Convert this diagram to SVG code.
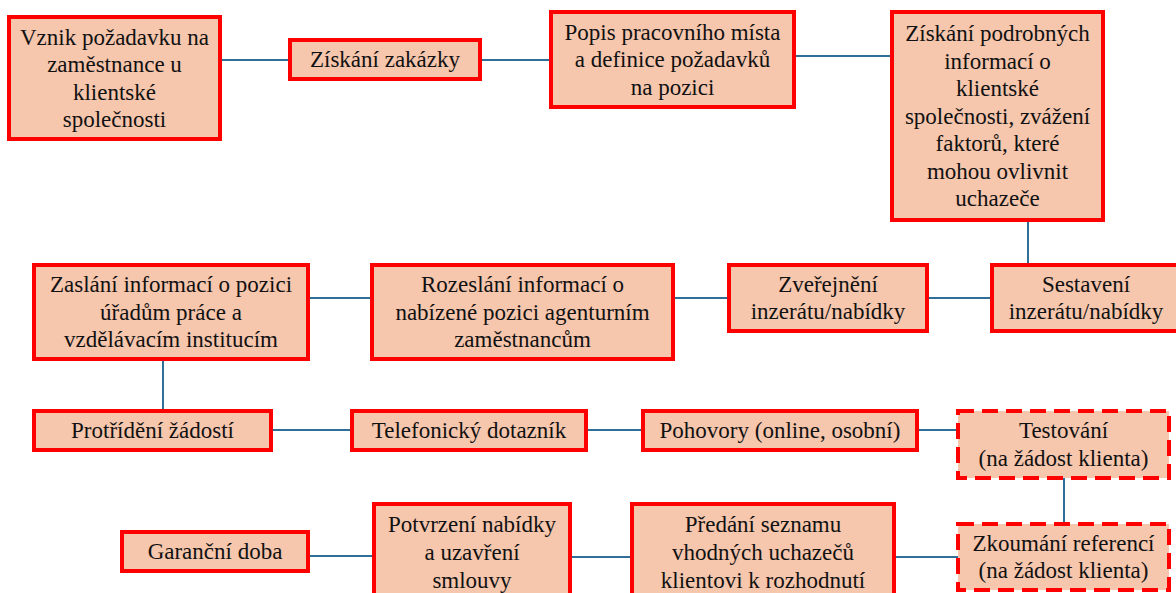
<svg xmlns="http://www.w3.org/2000/svg" width="1176" height="593" viewBox="0 0 1176 593">
<style>
.box{fill:#F6C6AD;stroke:#FF0000;stroke-width:4}
.dash{fill:#F6C6AD;stroke:#FF0000;stroke-width:4;stroke-dasharray:16 8}
.t{font-family:'Liberation Serif',Tinos,'Times New Roman',Times,'Noto Serif','DejaVu Serif',serif;font-size:23px;fill:#111;text-anchor:middle}
.c{stroke:#2F6F98;stroke-width:2;fill:none}
</style>
<rect width="1176" height="593" fill="#fff"/>
<g id="connectors">
<line class="c" x1="220" y1="60" x2="290" y2="60"/>
<line class="c" x1="480" y1="60" x2="551" y2="60"/>
<line class="c" x1="794" y1="56" x2="892" y2="56"/>
<line class="c" x1="1028" y1="220" x2="1028" y2="265"/>
<line class="c" x1="927" y1="298" x2="992" y2="298"/>
<line class="c" x1="673" y1="298" x2="729" y2="298"/>
<line class="c" x1="308" y1="298" x2="372" y2="298"/>
<line class="c" x1="163" y1="361" x2="163" y2="411"/>
<line class="c" x1="271" y1="430" x2="352" y2="430"/>
<line class="c" x1="586" y1="430" x2="643" y2="430"/>
<line class="c" x1="917" y1="430" x2="958" y2="430"/>
<line class="c" x1="1064" y1="478" x2="1064" y2="524"/>
<line class="c" x1="894" y1="557" x2="958" y2="557"/>
<line class="c" x1="570" y1="557" x2="632" y2="557"/>
<line class="c" x1="308" y1="556" x2="374" y2="556"/>
</g>
<g id="n1"><rect class="box" x="9" y="17" width="211" height="122"/>
<text class="t" font-family="Liberation Serif, serif"><tspan x="114.5" y="44.5">Vznik požadavku na</tspan><tspan x="114.5" y="72">zaměstnance u</tspan><tspan x="114.5" y="99.5">klientské</tspan><tspan x="114.5" y="127">společnosti</tspan></text></g>
<g id="n2"><rect class="box" x="290" y="40" width="190" height="39"/>
<text class="t" x="385" y="67">Získání zakázky</text></g>
<g id="n3"><rect class="box" x="551" y="12" width="243" height="95"/>
<text class="t"><tspan x="672.5" y="39.5">Popis pracovního místa</tspan><tspan x="672.5" y="67">a definice požadavků</tspan><tspan x="672.5" y="94.5">na pozici</tspan></text></g>
<g id="n4"><rect class="box" x="892" y="12" width="211" height="208"/>
<text class="t"><tspan x="997.5" y="41">Získání podrobných</tspan><tspan x="997.5" y="68.5">informací o</tspan><tspan x="997.5" y="96">klientské</tspan><tspan x="997.5" y="123.5">společnosti, zvážení</tspan><tspan x="997.5" y="151">faktorů, které</tspan><tspan x="997.5" y="178.5">mohou ovlivnit</tspan><tspan x="997.5" y="206">uchazeče</tspan></text></g>
<g id="n5"><rect class="box" x="992" y="265" width="188" height="66"/>
<text class="t"><tspan x="1086" y="291.75">Sestavení</tspan><tspan x="1086" y="319.25">inzerátu/nabídky</tspan></text></g>
<g id="n6"><rect class="box" x="729" y="265" width="198" height="66"/>
<text class="t"><tspan x="828" y="291.75">Zveřejnění</tspan><tspan x="828" y="319.25">inzerátu/nabídky</tspan></text></g>
<g id="n7"><rect class="box" x="372" y="265" width="301" height="94"/>
<text class="t"><tspan x="522.5" y="292">Rozeslání informací o</tspan><tspan x="522.5" y="319.5">nabízené pozici agenturním</tspan><tspan x="522.5" y="347">zaměstnancům</tspan></text></g>
<g id="n8"><rect class="box" x="34" y="265" width="274" height="94"/>
<text class="t"><tspan x="171" y="292">Zaslání informací o pozici</tspan><tspan x="171" y="319.5">úřadům práce a</tspan><tspan x="171" y="347">vzdělávacím institucím</tspan></text></g>
<g id="n9"><rect class="box" x="34" y="411" width="237" height="39"/>
<text class="t" x="152.5" y="438">Protřídění žádostí</text></g>
<g id="n10"><rect class="box" x="352" y="411" width="234" height="39"/>
<text class="t" x="469" y="438">Telefonický dotazník</text></g>
<g id="n11"><rect class="box" x="643" y="411" width="274" height="39"/>
<text class="t" x="780" y="438">Pohovory (online, osobní)</text></g>
<g id="n12"><rect class="dash" x="958" y="411" width="211" height="67"/>
<text class="t"><tspan x="1063.5" y="438">Testování</tspan><tspan x="1063.5" y="466">(na žádost klienta)</tspan></text></g>
<g id="n13"><rect class="dash" x="958" y="524" width="211" height="66"/>
<text class="t"><tspan x="1063.5" y="550.5">Zkoumání referencí</tspan><tspan x="1063.5" y="578">(na žádost klienta)</tspan></text></g>
<g id="n14"><rect class="box" x="632" y="504" width="262" height="100"/>
<text class="t"><tspan x="763" y="532">Předání seznamu</tspan><tspan x="763" y="560">vhodných uchazečů</tspan><tspan x="763" y="588">klientovi k rozhodnutí</tspan></text></g>
<g id="n15"><rect class="box" x="374" y="504" width="196" height="100"/>
<text class="t"><tspan x="472" y="532">Potvrzení nabídky</tspan><tspan x="472" y="560">a uzavření</tspan><tspan x="472" y="588">smlouvy</tspan></text></g>
<g id="n16"><rect class="box" x="122" y="532" width="186" height="39"/>
<text class="t" x="215" y="559">Garanční doba</text></g>
</svg>
